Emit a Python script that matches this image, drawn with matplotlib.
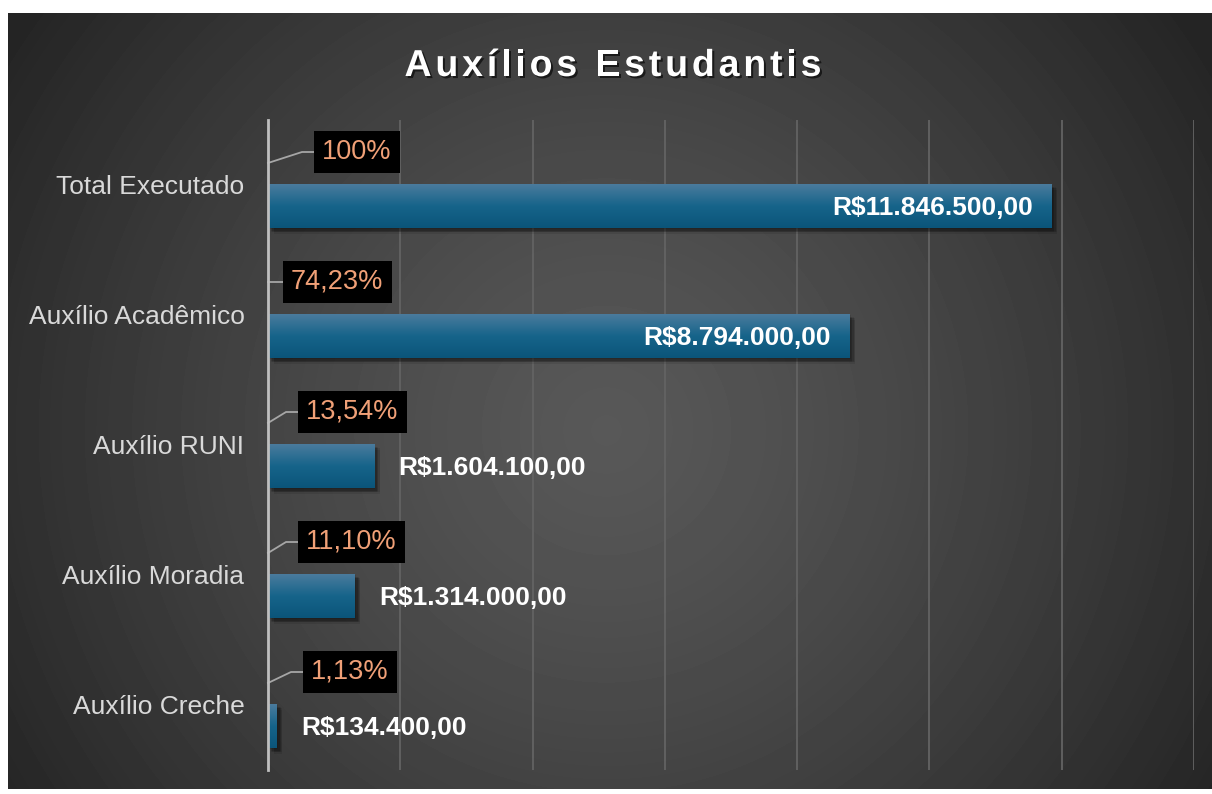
import matplotlib
matplotlib.use("Agg")
import matplotlib.pyplot as plt
import matplotlib.patheffects as pe
from matplotlib.colors import LinearSegmentedColormap
from matplotlib.font_manager import FontProperties, findfont
from matplotlib.ft2font import FT2Font
import numpy as np

plt.rcParams['font.family'] = ['Liberation Sans', 'DejaVu Sans']

# data
categorias = ["Total Executado", "Auxílio Acadêmico", "Auxílio RUNI",
              "Auxílio Moradia", "Auxílio Creche"]
valores = [11846500, 8794000, 1604100, 1314000, 134400]
percentuais = ["100%", "74,23%", "13,54%", "11,10%", "1,13%"]
titulo = "Auxílios Estudantis"

# layout (pixels)
W, H = 1212, 794
pct_left_px = [46, 15, 30, 30, 35]   # left edge of the % boxes from the axis


def brl(v):
    s = f"{v:,.2f}".replace(",", "X").replace(".", ",").replace("X", ".")
    return "R$" + s


fig = plt.figure(figsize=(W / 100, H / 100), dpi=100, facecolor="white")

# dark radial background panel
bg = fig.add_axes([8 / W, 5 / H, 1204 / W, 776 / H], zorder=-5)
yy, xx = np.mgrid[0:776, 0:1204]
r = np.sqrt((xx - 598) ** 2 + (yy - 417) ** 2) / 720
g = (0x58 - (0x58 - 0x24) * np.clip(r, 0, 1) ** 1.3) / 255
bg.imshow(g, cmap="gray", vmin=0, vmax=1, aspect="auto", interpolation="bilinear")
bg.axis("off")

ax = fig.add_axes([268 / W, 1 - 770 / H, 926 / W, 650 / H])
ax.set_facecolor("none")

y = np.arange(len(categorias))
bars = ax.barh(y + 0.162, valores, height=0.338, color="#1A6589", zorder=3)

cmap = LinearSegmentedColormap.from_list(
    "barra", [(0, "#4A7B9D"), (0.5, "#16648A"), (1, "#0B557A")])
grad = np.linspace(0, 1, 64)[:, None]
# soft shadow: several faint offset copies
sombra = [pe.SimplePatchShadow(offset=(ox, oy), shadow_rgbFace="black", alpha=0.09)
          for ox, oy in [(1, -1), (2, -2), (3, -3), (4, -4), (2, -3), (3, -2), (4, -3)]]
for b in bars:
    b.set_path_effects(sombra + [pe.Normal()])
    x0, y0, w, h = b.get_x(), b.get_y(), b.get_width(), b.get_height()
    im = ax.imshow(grad, extent=(x0, x0 + w, y0 + h, y0), aspect="auto",
                   cmap=cmap, zorder=3.5, interpolation="bilinear")
    im.set_clip_path(b)

ax.set_xlim(0, 14e6)
ax.set_ylim(4.5, -0.5)
ax.set_xticks(np.arange(0, 14e6 + 1, 2e6))
ax.xaxis.grid(True, color="#636363", lw=1.3)
ax.set_axisbelow(True)
ax.tick_params(axis="x", length=0, labelbottom=False)
ax.set_yticks(y)
ax.set_yticklabels(categorias)
ax.tick_params(axis="y", length=0, pad=17, labelsize=19, labelcolor="#D9D9D9")
for s in ["top", "right", "bottom"]:
    ax.spines[s].set_visible(False)
ax.spines["left"].set_color("#BFBFBF")
ax.spines["left"].set_linewidth(2)
ax.spines["left"].set_zorder(5)

dx = 14e6 / 926
dy = 5 / 650

# value labels
for b, v in zip(bars, valores):
    yc = b.get_y() + b.get_height() / 2 + 2 * dy
    if v > 5e6:
        ax.annotate(brl(v), xy=(v, yc), xytext=(-13.7, 0), textcoords="offset points",
                    ha="right", va="center", color="white", fontsize=19,
                    fontweight="bold", zorder=6)
    else:
        ax.annotate(brl(v), xy=(v, yc), xytext=(17.3, 0), textcoords="offset points",
                    ha="left", va="center", color="white", fontsize=19,
                    fontweight="bold", zorder=6)

# percentage labels with leader lines
for i, (p, L) in enumerate(zip(percentuais, pct_left_px)):
    yb = i - 33 * dy
    ax.text((L + 8) * dx, yb, p, ha="left", va="center", color="#F0A077",
            fontsize=19.5, zorder=6,
            bbox=dict(boxstyle="square,pad=0.3", fc="black", ec="none"))
    if L - 12 < 10:
        xs, ys = [0, L * dx], [yb, yb]
    else:
        xs, ys = [0, (L - 12) * dx, L * dx], [i - 22 * dy, yb, yb]
    ax.plot(xs, ys, color="#A6A6A6", lw=1.3, clip_on=False, zorder=4)

# title with letter spacing
fp = FontProperties(family="Liberation Sans", weight="bold", size=27)
font = FT2Font(findfont(fp))
font.set_size(27, 100)
adv = [font.load_char(ord(c)).linearHoriAdvance / 65536 for c in titulo]
gap = (417 - sum(adv)) / (len(titulo) - 1)
x = 613 - (sum(adv) + gap * (len(titulo) - 1)) / 2
for c, a in zip(titulo, adv):
    fig.text(x / W, 1 - 76 / H, c, fontproperties=fp, color="white",
             ha="left", va="baseline",
             path_effects=[pe.withSimplePatchShadow(offset=(1.5, -1.5),
                                                    shadow_rgbFace="black", alpha=0.6)])
    x += a + gap

fig.savefig("out.png", dpi=100, facecolor=fig.get_facecolor())
